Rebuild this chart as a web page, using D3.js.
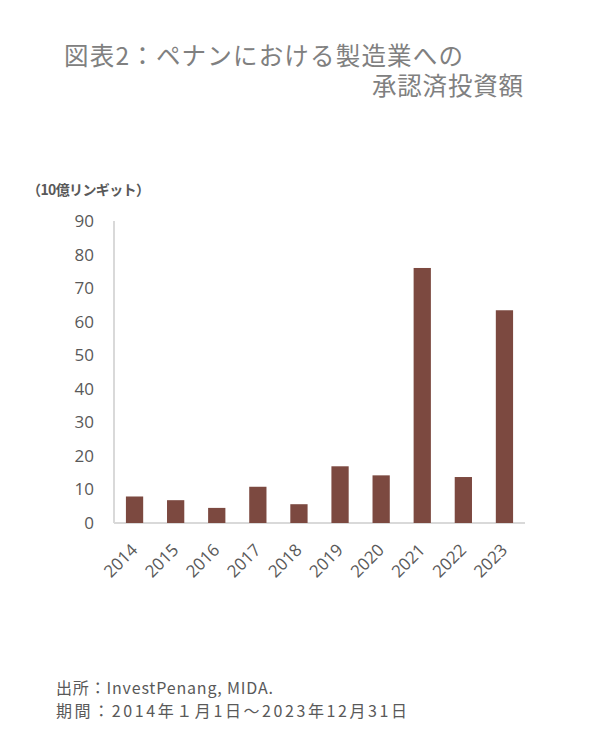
<!DOCTYPE html>
<html><head><meta charset="utf-8">
<script src="https://cdn.jsdelivr.net/npm/d3@7"></script>
<style>
html,body{margin:0;padding:0;background:#fff;}
svg{display:block;}
</style></head>
<body>
<svg id="chart" width="596" height="752"></svg>
<script>
// Approved manufacturing investment in Penang (RM billion)
const years = ["2014","2015","2016","2017","2018","2019","2020","2021","2022","2023"];
const values = [7.9, 6.8, 4.5, 10.8, 5.6, 16.9, 14.2, 76.0, 13.7, 63.4];
const yTicks = [0,10,20,30,40,50,60,70,80,90];

const svg = d3.select("#chart");
const jp = "'Noto Sans CJK JP', 'Noto Sans', sans-serif";
const num = "'Open Sans', 'Noto Sans', sans-serif";

const plot = {left:114, right:525, top:221, bottom:523};

const x = d3.scaleBand().domain(years).range([plot.left, plot.right]).paddingInner(0.58).paddingOuter(0.29);
const y = d3.scaleLinear().domain([0,90]).range([plot.bottom, plot.top]);

// title (two lines, second right-aligned)
svg.append("text").attr("x",64).attr("y",65)
  .attr("font-family",jp).attr("font-size",24.5).attr("fill","#808080")
  .attr("textLength",399).attr("lengthAdjust","spacing")
  .text("図表2：ペナンにおける製造業への");
svg.append("text").attr("x",372).attr("y",95)
  .attr("font-family",jp).attr("font-size",24.5).attr("fill","#808080")
  .attr("textLength",151).attr("lengthAdjust","spacing")
  .text("承認済投資額");

// unit label
svg.append("text").attr("x",27).attr("y",195)
  .attr("font-family",jp).attr("font-size",14).attr("font-weight",700).attr("fill","#595959")
  .attr("textLength",123).attr("lengthAdjust","spacing")
  .text("（10億リンギット）");

// y axis
const yAxis = svg.append("g").attr("transform",`translate(${plot.left},0)`)
  .call(d3.axisLeft(y).tickValues(yTicks).tickSize(0).tickPadding(20).tickFormat(d3.format("d")));
yAxis.select(".domain").attr("stroke","#d9d9d9").attr("stroke-width",2)
  .attr("d",`M0,${plot.top}V${plot.bottom}`);
yAxis.selectAll("text").attr("font-family",num).attr("font-size",17).attr("fill","#595959");

// x axis
const xAxis = svg.append("g").attr("transform",`translate(0,${plot.bottom})`)
  .call(d3.axisBottom(x).tickSize(0).tickPadding(0));
xAxis.select(".domain").attr("stroke","#d9d9d9").attr("stroke-width",2)
  .attr("d",`M${plot.left},0H${plot.right}`);
xAxis.selectAll("text")
  .attr("font-family",num).attr("font-size",17).attr("fill","#595959")
  .attr("text-anchor","end").attr("dy",null).attr("y",0)
  .attr("transform","translate(4,28) rotate(-45)");

// bars
svg.append("g").selectAll("rect").data(values).join("rect")
  .attr("x",(d,i)=>x(years[i]))
  .attr("y",d=>y(d))
  .attr("width",x.bandwidth())
  .attr("height",d=>y(0)-y(d))
  .attr("fill","#7c4940");

// source notes
svg.append("text").attr("x",56).attr("y",694)
  .attr("font-family",jp).attr("font-size",16).attr("fill","#595959")
  .attr("textLength",217).attr("lengthAdjust","spacing")
  .text("出所：InvestPenang, MIDA.");
svg.append("text").attr("x",56).attr("y",717)
  .attr("font-family",jp).attr("font-size",16).attr("fill","#595959")
  .attr("textLength",351).attr("lengthAdjust","spacing")
  .text("期間：2014年１月1日～2023年12月31日");
</script>
</body></html>
